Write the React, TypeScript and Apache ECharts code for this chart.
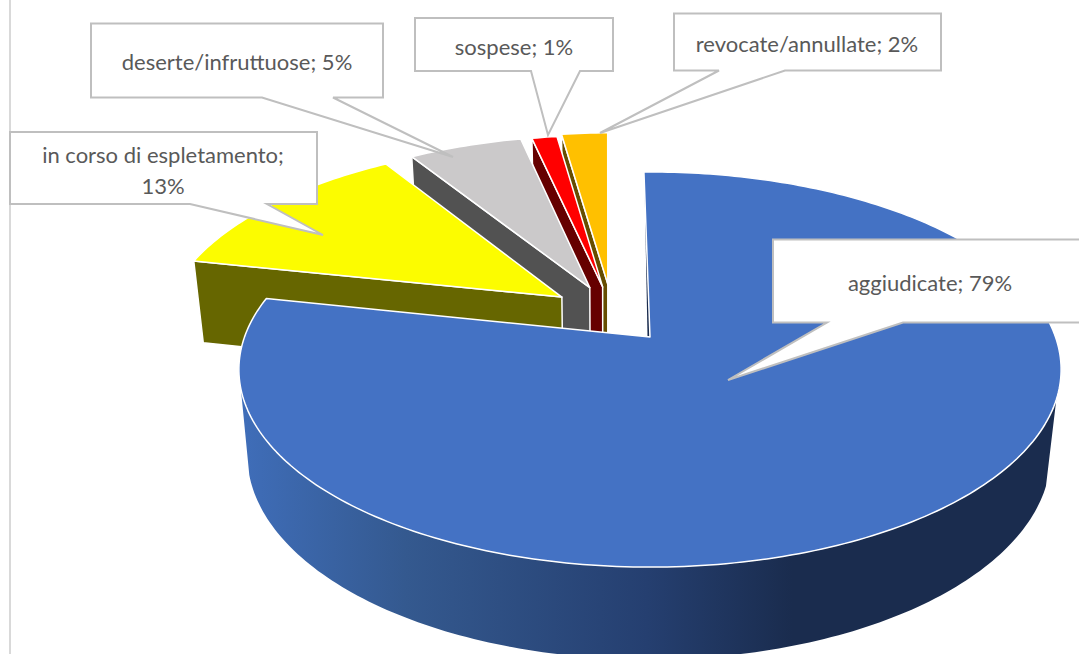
import React, { useEffect, useRef } from "react";
import * as echarts from "echarts";

const categories = ["aggiudicate", "in corso di espletamento", "deserte/infruttuose", "sospese", "revocate/annullate"];
const shares = [78.6, 12.6, 5.4, 1.2, 2.2];
const shownPercents = [79, 13, 5, 1, 2];

const topColors = ["#4472C4", "#FCFC00", "#CBC9CA", "#FF0000", "#FFC000"];
const wallColors = ["#1A2C4E", "#666600", "#525252", "#660000", "#664D00"];

// Exploded slice displacement, in pie-plane units.
const explode = [[0, 0], [-0.225, -0.215], [-0.155, -0.268], [-0.122, -0.272], [-0.109, -0.288]];
const drawOrder = [4, 3, 2, 1, 0];

// Projection of the tilted pie.
const FIRST_ANGLE = -1;
const CX = 650, CY = 337, A = 405.5, B = 192.2, K = -0.1646;
const project = (u: number, v: number): number[] => {
  const d = 1 + K * v;
  return [CX + (A * u) / d, CY + (B * v) / d];
};
const below = (p: number[]): number[] => [649 + (p[0] - 650) * 0.977, p[1] + 83 + (p[1] - 300) * 0.035];

const total = shares.reduce((a, b) => a + b, 0);
const startAngles: number[] = [];
shares.reduce((acc, v, i) => {
  startAngles[i] = acc;
  return acc + (v / total) * 360;
}, FIRST_ANGLE);

const rimPoint = (i: number, deg: number): number[] => {
  const t = (deg * Math.PI) / 180;
  return project(Math.sin(t) + explode[i][0], -Math.cos(t) + explode[i][1]);
};

const renderItem = (_params: any, api: any) => {
  const i = api.value(0);
  const from = startAngles[i];
  const to = from + (api.value(1) / total) * 360;
  const apex = project(explode[i][0], explode[i][1]);
  const rim: number[][] = [];
  const steps = Math.max(4, Math.ceil(to - from));
  for (let s = 0; s <= steps; s++) rim.push(rimPoint(i, from + ((to - from) * s) / steps));

  const children: any[] = [];
  const edge = { stroke: "#FFFFFF", lineWidth: 1.5, lineJoin: "round" };
  if (i === 0) {
    // Outer wall of the big slice, with its left-to-right shading.
    const front: number[][] = [];
    for (let d = 108; d <= 255; d += 1) front.push(rimPoint(0, d));
    const back = front.map(below).reverse();
    children.push({
      type: "polygon",
      shape: { points: front.concat(back) },
      style: {
        fill: new echarts.graphic.LinearGradient(
          245, 0, 1050, 0,
          [
            { offset: 0, color: "#3F6DB8" },
            { offset: 0.2, color: "#34598F" },
            { offset: 0.5, color: "#253F70" },
            { offset: 0.68, color: "#1A2C4E" },
            { offset: 1, color: "#1A2C4E" },
          ],
          true
        ),
      },
    });
    // Thin sliver of the inner wall on the first edge.
    const tipA = rimPoint(0, from);
    const g = [tipA[0] + (apex[0] - tipA[0]) * 0.12, tipA[1] + (apex[1] - tipA[1]) * 0.12];
    children.push({
      type: "polygon",
      shape: { points: [g, apex, [apex[0] - 2.5, apex[1] - 1]] },
      style: { fill: wallColors[0] },
    });
  } else {
    const corner = rim[0];
    children.push({
      type: "polygon",
      shape: { points: [apex, corner, below(corner), below(apex)] },
      style: { fill: wallColors[i], ...edge },
    });
  }
  children.push({
    type: "polygon",
    shape: { points: [apex].concat(rim) },
    style: { fill: topColors[i], ...edge },
  });
  return { type: "group", children };
};

// Callout boxes: [left, top, right, bottom, pointer base a, pointer base b, tip x, tip y, text x, text y]
const callouts = [
  [773, 239.5, 1090, 322.5, 827, 903, 728, 380, 930, 282],
  [10, 132, 317, 204, 190, 267, 323, 235, 163, 170],
  [91, 23.5, 383, 97.5, 262, 333, 453, 157, 237, 61],
  [415, 18, 613, 71, 531, 580, 548, 135, 514, 46],
  [674, 13.5, 941, 70.5, 719, 785, 600, 133, 807, 43],
];
const wrapped = [false, true, false, false, false];

export default function App() {
  const ref = useRef<HTMLDivElement>(null);
  useEffect(() => {
    const chart = echarts.init(ref.current!, undefined, { renderer: "svg" });
    const graphics: any[] = [
      {
        type: "line",
        shape: { x1: 10, y1: 0, x2: 10, y2: 654 },
        style: { stroke: "#D9D9D9", lineWidth: 2 },
        z: 5,
      },
    ];
    callouts.forEach((c, i) => {
      const [l, t, r, b, a1, a2, tx, ty, lx, ly] = c;
      graphics.push({
        type: "polygon",
        z: 10,
        shape: { points: [[l, t], [r, t], [r, b], [a2, b], [tx, ty], [a1, b], [l, b]] },
        style: { fill: "#FFFFFF", stroke: "#BFBFBF", lineWidth: 2 },
      });
      graphics.push({
        type: "text",
        z: 11,
        x: lx,
        y: ly,
        style: {
          text: `${categories[i]};${wrapped[i] ? "\n" : " "}${shownPercents[i]}%`,
          fill: "#595959",
          font: '22px Lato',
          lineHeight: 31,
          align: "center",
          verticalAlign: "middle",
        },
      });
    });
    chart.setOption({
      animation: false,
      backgroundColor: "#FFFFFF",
      graphic: graphics,
      series: [
        {
          type: "custom",
          coordinateSystem: "none",
          clip: false,
          silent: true,
          renderItem,
          data: drawOrder.map((i) => [i, shares[i]]),
        },
      ],
    });
    return () => chart.dispose();
  }, []);
  return <div ref={ref} style={{ position: "fixed", left: 0, top: 0, width: 1079, height: 654 }} />;
}
